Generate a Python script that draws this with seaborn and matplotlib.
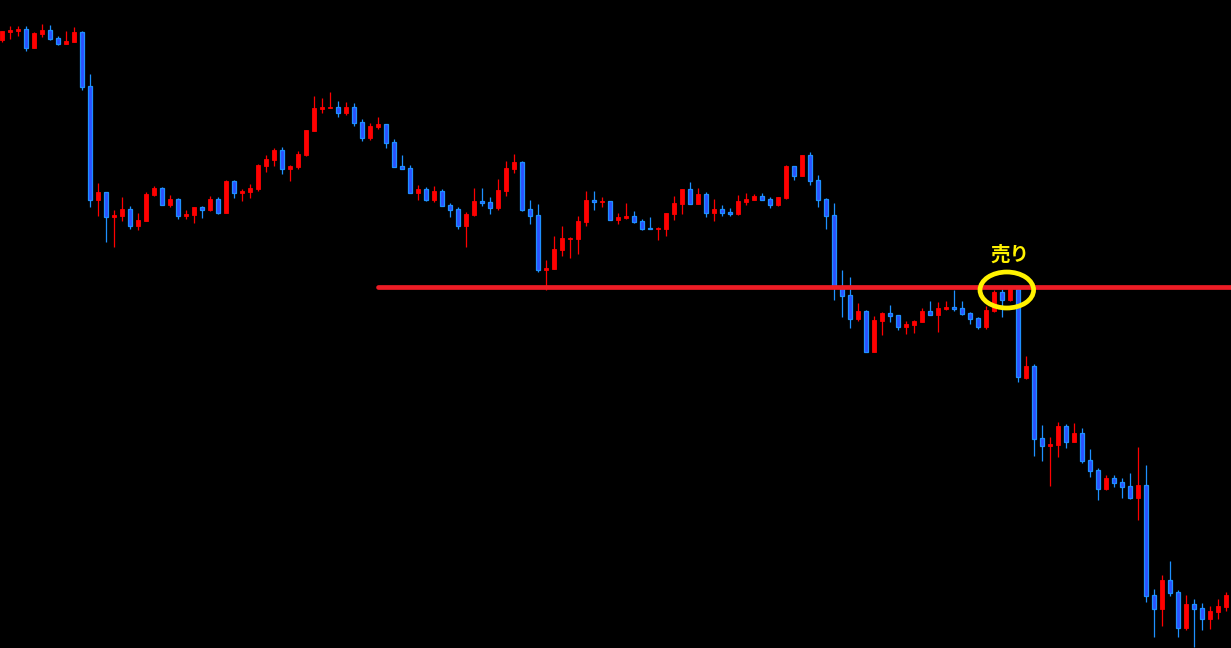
import numpy as np
import pandas as pd
import matplotlib
matplotlib.use("Agg")
import matplotlib.pyplot as plt
from matplotlib.patches import Ellipse
import seaborn as sns

# OHLC values (price points), one entry per candle
opens = [660, 668, 669, 671, 652, 666, 670, 662, 656, 658, 668, 614, 500, 508, 483, 484, 491, 474, 479, 505,
         512, 495, 501, 484, 485, 493, 490, 501, 487, 519, 507, 508, 511, 534, 540, 550, 531, 533, 545, 569,
         591, 592, 593, 587, 593, 578, 562, 573, 576, 558, 534, 532, 507, 511, 500, 509, 495, 491, 474, 485,
         499, 498, 492, 509, 531, 538, 491, 485, 430, 431, 450, 461, 461, 478, 500, 498, 499, 480, 482, 484,
         479, 472, 471, 471, 486, 496, 511, 496, 506, 487, 491, 488, 486, 498, 500, 504, 501, 495, 502, 534,
         524, 545, 520, 501, 485, 413, 405, 381, 389, 348, 379, 387, 385, 373, 375, 378, 389, 385, 391, 393,
         392, 387, 382, 373, 389, 408, 400, 411, 322, 334, 262, 254, 255, 274, 258, 267, 240, 230, 211, 222,
         218, 214, 202, 215, 105, 91, 120, 108, 72, 96, 92, 81, 88, 93]
highs = [669, 674, 674, 674, 668, 676, 675, 664, 669, 673, 669, 626, 517, 508, 490, 503, 494, 487, 508, 514,
         513, 505, 502, 490, 493, 494, 504, 503, 520, 520, 511, 516, 536, 545, 552, 553, 535, 549, 570, 604,
         602, 608, 599, 598, 597, 581, 577, 583, 576, 561, 545, 535, 515, 513, 514, 511, 497, 493, 488, 512,
         512, 503, 521, 539, 546, 539, 500, 496, 440, 464, 474, 463, 484, 509, 509, 503, 499, 487, 497, 489,
         481, 483, 473, 487, 504, 511, 518, 512, 508, 501, 495, 492, 505, 507, 506, 507, 503, 503, 535, 534,
         545, 548, 525, 502, 497, 430, 423, 397, 390, 384, 388, 395, 385, 379, 380, 392, 399, 398, 399, 410,
         399, 388, 383, 394, 410, 411, 413, 413, 344, 336, 275, 263, 278, 276, 277, 272, 251, 232, 225, 225,
         222, 227, 253, 235, 111, 125, 139, 110, 105, 101, 97, 94, 101, 108]
lows = [658, 661, 664, 649, 652, 663, 660, 655, 656, 658, 610, 493, 484, 458, 453, 479, 471, 470, 479, 504,
        495, 493, 481, 481, 477, 482, 489, 486, 487, 502, 499, 502, 509, 528, 534, 526, 519, 531, 544, 569,
        587, 592, 583, 585, 574, 559, 560, 571, 552, 533, 531, 507, 500, 499, 498, 494, 483, 471, 453, 484,
        494, 486, 490, 504, 527, 489, 476, 428, 410, 431, 444, 442, 446, 474, 490, 493, 480, 476, 481, 477,
        470, 471, 460, 464, 480, 486, 496, 496, 483, 479, 484, 484, 485, 495, 500, 500, 492, 494, 501, 520,
        524, 515, 493, 471, 400, 383, 372, 379, 348, 348, 365, 378, 370, 366, 367, 378, 385, 368, 390, 389,
        385, 376, 371, 371, 388, 383, 399, 318, 321, 244, 239, 214, 243, 252, 258, 237, 223, 200, 210, 213,
        202, 201, 180, 98, 63, 74, 104, 63, 70, 53, 70, 71, 81, 89]
closes = [669, 670, 671, 652, 667, 670, 661, 656, 659, 668, 613, 500, 508, 483, 485, 491, 474, 480, 506, 512,
          495, 501, 484, 486, 493, 490, 501, 487, 519, 507, 509, 512, 535, 541, 550, 531, 534, 546, 570, 592,
          593, 593, 587, 593, 577, 562, 574, 576, 557, 533, 531, 507, 511, 500, 509, 494, 490, 474, 486, 499,
          497, 492, 510, 532, 538, 490, 484, 430, 432, 451, 462, 462, 479, 500, 498, 499, 480, 483, 484, 478,
          471, 471, 472, 487, 497, 511, 496, 506, 487, 491, 487, 486, 499, 501, 504, 500, 495, 503, 534, 524,
          545, 519, 500, 484, 413, 404, 381, 389, 348, 380, 387, 384, 373, 376, 379, 389, 385, 392, 393, 391,
          386, 381, 373, 390, 408, 400, 411, 323, 334, 261, 254, 256, 274, 258, 267, 239, 229, 211, 222, 217,
          213, 202, 215, 104, 91, 120, 107, 72, 96, 91, 81, 89, 94, 105]

level_price = 413          # horizontal resistance/support line
level_start = 47           # candle index where the line starts
signal_index = 125.6       # candle position of the sell marker
signal_price = 410
label_text = "売り"

df = pd.DataFrame({"open": opens, "high": highs, "low": lows, "close": closes})
df["idx"] = np.arange(len(df))
df["up"] = df["close"] >= df["open"]

sns.set_theme(style="dark", rc={"axes.facecolor": "black", "figure.facecolor": "black"})
plt.rcParams["font.family"] = ["Noto Sans CJK JP", "DejaVu Sans"]

fig = plt.figure(figsize=(12.31, 6.48), dpi=100)
ax = fig.add_axes([0, 0, 1, 1])
ax.set_facecolor("black")

UP_COL = "#FF0000"
DN_FACE = "#2C50FF"
DN_EDGE = "#1E90FF"

for up, sub in df.groupby("up"):
    wick_col = UP_COL if up else DN_EDGE
    ax.vlines(sub["idx"], sub["low"], sub["high"], color=wick_col, linewidth=0.9, zorder=2)
    bottoms = np.minimum(sub["open"], sub["close"])
    heights = np.maximum(np.abs(sub["close"] - sub["open"]), 0.8)
    if up:
        ax.bar(sub["idx"], heights, bottom=bottoms, width=0.6, color=UP_COL,
               edgecolor=UP_COL, linewidth=0.6, zorder=3)
    else:
        ax.bar(sub["idx"], heights, bottom=bottoms, width=0.6, color=DN_FACE,
               edgecolor=DN_EDGE, linewidth=0.9, zorder=3)

# horizontal level line
line_df = pd.DataFrame({"x": [level_start, len(df) + 5], "y": [level_price, level_price]})
sns.lineplot(data=line_df, x="x", y="y", ax=ax, color="#EE1C25", linewidth=3.4, zorder=4,
             legend=False)

# sell marker
ax.add_patch(Ellipse((signal_index, signal_price), width=6.7, height=36, fill=False,
                     edgecolor="#FFF200", linewidth=3.4, zorder=5))
ax.text(signal_index + 0.4, signal_price + 35, label_text, color="#FFF200", fontsize=14,
        fontweight="bold", ha="center", va="center", zorder=6)

ax.set_xlim(-0.25, 153.625)
ax.set_ylim(52, 700)
ax.set_axis_off()

fig.savefig("out.png", dpi=100, facecolor="black")
